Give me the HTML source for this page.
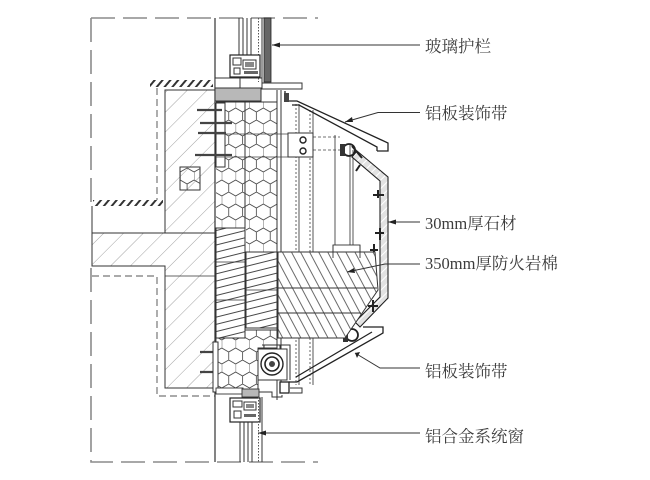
<!DOCTYPE html>
<html><head><meta charset="utf-8"><style>
html,body{margin:0;padding:0;background:#fff;}
svg{display:block;}
text{font-family:"Liberation Serif","Noto Serif CJK SC","Noto Sans CJK SC",serif;font-size:16.5px;fill:#3c3c3c;}
</style></head><body>
<svg width="650" height="480" viewBox="0 0 650 480" xmlns="http://www.w3.org/2000/svg">
<defs>
<pattern id="hex" width="13.86" height="24" patternUnits="userSpaceOnUse">
<path d="M0,4 L6.93,0 L13.86,4 M0,4 L0,12 L6.93,16 L13.86,12 M6.93,16 L6.93,24" fill="none" stroke="#444" stroke-width="0.8"/>
</pattern>
<pattern id="conc" width="14" height="14" patternUnits="userSpaceOnUse" patternTransform="rotate(45)">
<line x1="0" y1="0" x2="0" y2="14" stroke="#8a8a8a" stroke-width="0.8"/>
</pattern>
<pattern id="wood" width="10" height="7" patternUnits="userSpaceOnUse" patternTransform="rotate(-14)">
<line x1="0" y1="3" x2="10" y2="3" stroke="#333" stroke-width="0.9"/>
</pattern>
<pattern id="rock" width="8" height="10" patternUnits="userSpaceOnUse" patternTransform="rotate(-28)">
<line x1="3" y1="0" x2="3" y2="10" stroke="#444" stroke-width="0.8"/>
</pattern>
<pattern id="strip" width="6" height="6" patternUnits="userSpaceOnUse" patternTransform="rotate(40)">
<line x1="2" y1="0" x2="2" y2="6" stroke="#333" stroke-width="2"/>
</pattern>
<pattern id="stone" width="6" height="6" patternUnits="userSpaceOnUse" patternTransform="rotate(45)">
<rect width="6" height="6" fill="#e2e2e2"/>
<line x1="0" y1="0" x2="0" y2="6" stroke="#fff" stroke-width="2"/>
</pattern>
</defs>
<rect width="650" height="480" fill="#fff"/>

<!-- dashed outlines -->
<g fill="none" stroke="#8c8c8c" stroke-width="1.6" stroke-dasharray="24,8">
<path d="M91,18 H318"/>
<path d="M91,18 V203"/>
<path d="M91,268 V462 H318"/>
</g>
<g fill="none" stroke="#777" stroke-width="1.2" stroke-dasharray="7,4">
<path d="M157,88 V200"/>
<path d="M92,276 H157 V396 H215"/>
</g>

<!-- hatched strips -->
<rect x="150" y="80" width="63" height="7" fill="url(#strip)"/>
<rect x="93" y="200" width="70" height="6" fill="url(#strip)"/>

<!-- concrete -->
<rect x="165" y="90" width="50" height="143" fill="url(#conc)" stroke="#333" stroke-width="1"/>
<rect x="180" y="167" width="20" height="23" fill="url(#hex)" stroke="#333" stroke-width="1"/>
<path d="M92,233 H215 V388 H165 V266 H92 Z" fill="url(#conc)" stroke="#333" stroke-width="1"/>
<line x1="165" y1="276" x2="215" y2="276" stroke="#333" stroke-width="0.8"/>
<path d="M92,206 V233 M165,206 V233" stroke="#333" stroke-width="1"/>

<!-- wall face -->
<line x1="215" y1="18" x2="215" y2="462" stroke="#333" stroke-width="1.2"/>

<!-- top glass railing -->
<g stroke="#333" stroke-width="1" fill="none">
<path d="M239,18 V56 M243,18 V56 M247,18 V56 M251,18 V56"/>
<path d="M262,18 V82"/>
</g>
<line x1="258.5" y1="18" x2="258.5" y2="82" stroke="#555" stroke-width="1" stroke-dasharray="1.5,1.5"/>
<rect x="264" y="18" width="7" height="64" fill="#666" stroke="#222" stroke-width="0.8"/>
<g stroke="#222" stroke-width="1.2" fill="#fff">
<rect x="230" y="55" width="30" height="22"/>
</g>
<g fill="none" stroke="#333" stroke-width="1">
<rect x="233" y="58" width="8" height="7"/>
<rect x="243" y="60" width="13" height="9"/>
<rect x="234" y="68" width="6" height="6"/>
</g>
<rect x="245" y="62" width="9" height="5" fill="#888"/>
<rect x="244" y="71" width="14" height="3" fill="#666"/>
<rect x="215" y="78" width="25" height="10" fill="#fff" stroke="#333" stroke-width="1"/>
<rect x="215" y="88" width="46" height="13" fill="#b8b8b8" stroke="#333" stroke-width="1"/>
<path d="M240,78 H262 V88" fill="none" stroke="#333" stroke-width="1"/>
<rect x="262" y="83" width="40" height="6" fill="#fff" stroke="#333" stroke-width="1"/>

<!-- insulation hex column -->
<rect x="216" y="102" width="61" height="126" fill="url(#hex)"/>
<rect x="246" y="228" width="31" height="24" fill="url(#hex)"/>
<path d="M216,330 H277 V348 H258 V390 H216 Z" fill="url(#hex)" stroke="#333" stroke-width="0.9"/>
<!-- wood blocks -->
<rect x="216" y="228" width="29" height="110" fill="#fff" stroke="#333" stroke-width="1"/>
<rect x="216" y="228" width="29" height="110" fill="url(#wood)"/>
<line x1="216" y1="262" x2="245" y2="262" stroke="#333" stroke-width="0.8"/>
<line x1="216" y1="300" x2="245" y2="300" stroke="#333" stroke-width="0.8"/>
<rect x="246" y="252" width="31" height="76" fill="#fff" stroke="#333" stroke-width="1"/>
<rect x="246" y="252" width="31" height="76" fill="url(#wood)"/>
<line x1="246" y1="290" x2="277" y2="290" stroke="#333" stroke-width="0.8"/>
<g stroke="#333" stroke-width="1" fill="none">
<path d="M216,102 H277"/>
<path d="M245,102 V228"/>
<path d="M277,90 V400"/>
<path d="M281,90 V392"/>
</g>

<!-- brackets and bolts left -->
<rect x="216" y="103" width="9" height="64" fill="#fff" stroke="#333" stroke-width="1"/>
<g stroke="#444" stroke-width="2.2">
<path d="M197,110 H222 M200,123 H232 M198,133 H226 M195,155 H232"/>
<path d="M200,352 H218 M200,372 H218"/>
</g>
<rect x="213" y="342" width="5" height="50" fill="#fff" stroke="#333" stroke-width="1"/>
<rect x="216" y="388" width="27" height="6" fill="#fff" stroke="#333" stroke-width="0.9"/>

<!-- horizontal thin lines -->
<g stroke="#444" stroke-width="0.8">
<path d="M216,134 H300 M216,157 H300"/>
</g>
<g stroke="#444" stroke-width="0.8" stroke-dasharray="3,2">
<path d="M313,137 H340 M313,150 H340"/>
</g>

<!-- vertical lines in bay -->
<g stroke="#444" stroke-width="0.9" fill="none">
<path d="M299,104 V385"/>
<path d="M313,110 V385"/>
<path d="M335,135 V252"/>
<path d="M350,145 V252"/>
<path d="M353,150 V252"/>
</g>
<g stroke="#555" stroke-width="0.9" stroke-dasharray="2,2">
<path d="M296,104 V385 M310,110 V385"/>
</g>

<!-- upper bracket box -->
<rect x="288" y="133" width="25" height="24" fill="#fff" stroke="#333" stroke-width="1"/>
<circle cx="303" cy="140" r="3" fill="none" stroke="#222" stroke-width="1.4"/>
<circle cx="303" cy="151" r="3" fill="none" stroke="#222" stroke-width="1.4"/>

<!-- upper aluminum panel -->
<g stroke="#222" stroke-width="1.3" fill="none">
<path d="M285,91 V101 H297 L388,143 V151 H377"/>
<path d="M292,105 H299 L377,147 V151"/>
</g>
<rect x="284" y="93" width="5" height="9" fill="#444"/>

<!-- stone cladding -->
<polygon points="357,151 388,177 388,298 360,327 355,322 380,297 380,181 352,157" fill="url(#stone)" stroke="#222" stroke-width="1.1"/>

<!-- brackets near stone -->
<circle cx="349" cy="150" r="6" fill="none" stroke="#222" stroke-width="1.8"/>
<rect x="340" y="144" width="5" height="12" fill="#333"/>
<path d="M352,146 L362,158" stroke="#222" stroke-width="2"/>
<circle cx="352" cy="335" r="6" fill="none" stroke="#222" stroke-width="1.8"/>
<rect x="343" y="330" width="5" height="12" fill="#333"/>
<g stroke="#222" stroke-width="2">
<path d="M373,195 H384 M378,190 V198"/>
<path d="M375,233 H384 M380,228 V240"/>
<path d="M370,250 H378 M374,244 V254"/>
<path d="M373,300 V312 M368,306 H378"/>
<path d="M360,165 L356,171"/>
</g>

<!-- rock wool -->
<rect x="333" y="245" width="27" height="13" fill="#fff" stroke="#333" stroke-width="0.9"/>
<polygon points="278,252 375,252 378,290 345,338 278,338" fill="#fff" stroke="#333" stroke-width="1"/>
<polygon points="278,252 375,252 378,290 345,338 278,338" fill="url(#rock)"/>
<g stroke="#333" stroke-width="0.9">
<path d="M278,288 H377 M278,313 H361"/>
</g>
<path d="M333,245 V258 M360,245 V258" stroke="#333" stroke-width="0.9"/>

<!-- lower aluminum panel -->
<g stroke="#222" stroke-width="1.3" fill="none">
<path d="M363,327 H383 V333 L297,382 H289"/>
<path d="M372,332 L296,377"/>
</g>

<!-- circle gadget -->
<rect x="258" y="349" width="29" height="31" fill="#fff" stroke="#333" stroke-width="1"/>
<circle cx="272" cy="364" r="11" fill="none" stroke="#222" stroke-width="1.4"/>
<circle cx="272" cy="364" r="7" fill="none" stroke="#222" stroke-width="1.6"/>
<circle cx="272" cy="364" r="3" fill="#444"/>
<path d="M264,349 V345 M280,349 V345 M262,345 H290 V380" stroke="#333" stroke-width="1" fill="none"/>
<rect x="280" y="382" width="9" height="11" fill="#fff" stroke="#222" stroke-width="1.3"/>
<path d="M290,388 H302 V393 H290" stroke="#333" stroke-width="1" fill="none"/>
<path d="M258,380 V392 H272 V397 H282 V395" stroke="#333" stroke-width="1" fill="none"/>

<!-- bottom window -->
<rect x="242" y="389" width="17" height="8" fill="#b8b8b8" stroke="#333" stroke-width="0.9"/>
<rect x="230" y="398" width="30" height="24" fill="#fff" stroke="#222" stroke-width="1.2"/>
<g fill="none" stroke="#333" stroke-width="1">
<rect x="233" y="401" width="9" height="6"/>
<rect x="244" y="402" width="12" height="8"/>
<rect x="234" y="411" width="7" height="7"/>
</g>
<rect x="246" y="404" width="8" height="4" fill="#888"/>
<rect x="244" y="414" width="12" height="3" fill="#666"/>
<g stroke="#333" stroke-width="1" fill="none">
<path d="M240,422 V462 M244,422 V462 M248,422 V462 M252,422 V462"/>
<path d="M262,397 V462"/>
</g>
<line x1="258.5" y1="397" x2="258.5" y2="462" stroke="#555" stroke-width="1" stroke-dasharray="1.5,1.5"/>

<!-- leader lines -->
<g stroke="#333" stroke-width="1" fill="none">
<path d="M272,45 H420"/>
<path d="M345,122 L378,112.5 H420"/>
<path d="M388,222 H420"/>
<path d="M347,272 L385,264 H420"/>
<path d="M355,353 L380,368 H420"/>
<path d="M258,433 H420"/>
</g>
<g fill="#222">
<polygon points="272,45 280,42.5 280,47.5"/>
<polygon points="345,122 352,117 353,122"/>
<polygon points="388,222 396,219.5 396,224.5"/>
<polygon points="347,272 354,268 355,273"/>
<polygon points="355,353 360,352 357,358"/>
<polygon points="258,433 266,430.5 266,435.5"/>
</g>

<!-- labels -->
<text x="425" y="52">玻璃护栏</text>
<text x="425" y="119">铝板装饰带</text>
<text x="425" y="229">30mm厚石材</text>
<text x="425" y="269">350mm厚防火岩棉</text>
<text x="425" y="377">铝板装饰带</text>
<text x="425" y="442">铝合金系统窗</text>
</svg>
</body></html>
